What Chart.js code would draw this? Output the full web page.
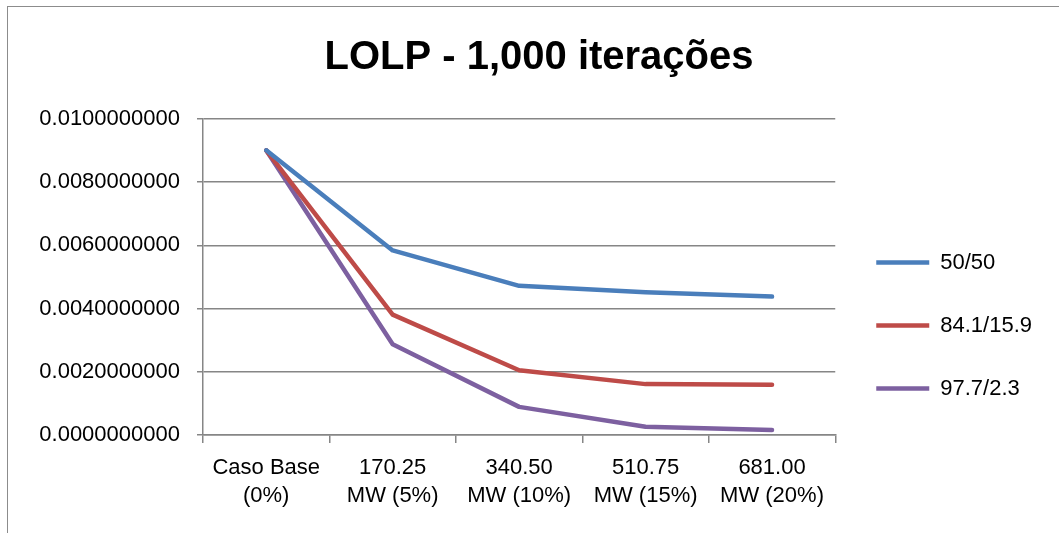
<!DOCTYPE html>
<html>
<head>
<meta charset="utf-8">
<script src="https://cdn.jsdelivr.net/npm/chart.js@4.4.1/dist/chart.umd.min.js"></script>
<style>
  body { margin: 0; background: #fff; }
  #wrap { position: relative; width: 1059px; height: 533px; overflow: hidden; }
  #frame { position: absolute; left: 7px; top: 6px; width: 1100px; height: 600px; border: 1px solid #8c8c8c; }
  canvas { position: absolute; left: 0; top: 0; }
</style>
</head>
<body>
<div id="wrap">
  <div id="frame"></div>
  <canvas id="c" width="1059" height="533"></canvas>
</div>
<script>
// categorias do eixo x (duas linhas cada)
const categorias = [
  ['Caso Base', '(0%)'],
  ['170.25', 'MW (5%)'],
  ['340.50', 'MW (10%)'],
  ['510.75', 'MW (15%)'],
  ['681.00', 'MW (20%)']
];
const serie5050 = [0.00901, 0.00584, 0.00472, 0.00452, 0.00438];
const serie841 = [0.00901, 0.00381, 0.00205, 0.00161, 0.00159];
const serie977 = [0.00901, 0.00287, 0.00089, 0.00026, 0.00016];
const nomesSeries = ['50/50', '84.1/15.9', '97.7/2.3'];

const fonte = '"Liberation Sans", Arial, sans-serif';

function serie(label, data, cor) {
  return {
    label: label,
    data: data,
    borderColor: cor,
    backgroundColor: cor,
    borderWidth: 4.5,
    pointRadius: 0,
    tension: 0,
    borderCapStyle: 'round',
    borderJoinStyle: 'round'
  };
}

// desce a legenda para a mesma altura do original
const descerLegenda = {
  id: 'descerLegenda',
  afterLayout(chart) {
    chart.legend.top += 59;
    chart.legend.bottom += 59;
  }
};

new Chart(document.getElementById('c'), {
  type: 'line',
  data: {
    labels: categorias,
    datasets: [
      serie(nomesSeries[0], serie5050, '#4a7ebb'),
      serie(nomesSeries[1], serie841, '#be4b48'),
      serie(nomesSeries[2], serie977, '#7d60a0')
    ]
  },
  plugins: [descerLegenda],
  options: {
    responsive: false,
    animation: false,
    layout: { padding: { left: 36, right: 17, top: 0, bottom: 0 } },
    plugins: {
      title: {
        display: true,
        text: 'LOLP - 1,000 iterações',
        color: '#000',
        font: { family: fonte, size: 40, weight: 'bold' },
        padding: { top: 34, bottom: 37 }
      },
      legend: {
        position: 'right',
        labels: {
          color: '#000',
          font: { family: fonte, size: 22 },
          usePointStyle: true,
          pointStyle: 'line',
          pointStyleWidth: 53,
          padding: 41
        }
      },
      tooltip: { enabled: false }
    },
    scales: {
      x: {
        offset: true,
        afterFit: s => { s.height = 98; },
        grid: { offset: true, drawOnChartArea: false, color: '#868686', lineWidth: 1.5, tickLength: 8 },
        border: { color: '#868686', width: 1.5 },
        ticks: { color: '#000', font: { family: fonte, size: 22, lineHeight: 1.27 }, maxRotation: 0, padding: 11 }
      },
      y: {
        min: 0,
        max: 0.01,
        afterFit: s => { s.width = 167; },
        grid: { color: '#868686', lineWidth: 1.5, tickLength: 6 },
        border: { color: '#868686', width: 1.5 },
        ticks: {
          stepSize: 0.002,
          color: '#000',
          font: { family: fonte, size: 22 },
          padding: 17,
          callback: v => v.toFixed(10)
        }
      }
    }
  }
});
</script>
</body>
</html>
